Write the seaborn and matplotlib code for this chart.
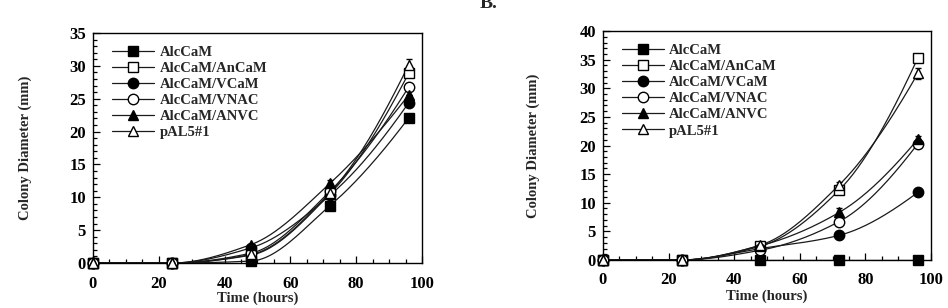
import numpy as np
import matplotlib
matplotlib.use("Agg")
import matplotlib.pyplot as plt
from matplotlib.lines import Line2D
from matplotlib.ticker import MultipleLocator
import seaborn as sns

# Data (colony diameter in mm)
hours = [0, 24, 48, 72, 96]
strains = ["AlcCaM", "AlcCaM/AnCaM", "AlcCaM/VCaM",
           "AlcCaM/VNAC", "AlcCaM/ANVC", "pAL5#1"]

# panel A
a_alccam = [0, 0, 0.3, 8.7, 22.1]
a_ancam = [0, 0, 1.2, 10.5, 28.9]
a_vcam = [0, 0, 2.3, 10.3, 24.4]
a_vnac = [0, 0, 1.5, 10.9, 26.8]
a_anvc = [0, 0, 2.8, 12.1, 25.6]
a_pal5 = [0, 0, 1.3, 10.7, 30.2]
a_err_anvc = [0, 0, 0, 0.6, 0]
a_err_pal5 = [0, 0, 0, 0, 0.8]

# panel B
b_alccam = [0, 0, 0, 0, 0]
b_ancam = [0, 0, 2.4, 12.2, 35.3]
b_vcam = [0, 0, 2.0, 4.3, 11.8]
b_vnac = [0, 0, 1.7, 6.7, 20.3]
b_anvc = [0, 0, 2.5, 8.3, 21.1]
b_pal5 = [0, 0, 2.6, 13.1, 32.6]
b_err_anvc = [0, 0, 0, 0.7, 0.5]
b_err_pal5 = [0, 0, 0, 0.6, 1.0]

MARKERS = {
    "AlcCaM": ("s", "black"),
    "AlcCaM/AnCaM": ("s", "white"),
    "AlcCaM/VCaM": ("o", "black"),
    "AlcCaM/VNAC": ("o", "white"),
    "AlcCaM/ANVC": ("^", "black"),
    "pAL5#1": ("^", "white"),
}


def smooth_curve(x, y, n=200):
    # monotone cubic (Fritsch-Carlson) through the measured points
    x = np.asarray(x, float)
    y = np.asarray(y, float)
    h = np.diff(x)
    delta = np.diff(y) / h
    d = np.zeros_like(y)
    for k in range(1, len(x) - 1):
        if delta[k - 1] * delta[k] > 0:
            w1 = 2 * h[k] + h[k - 1]
            w2 = h[k] + 2 * h[k - 1]
            d[k] = (w1 + w2) / (w1 / delta[k - 1] + w2 / delta[k])
    d[-1] = max(0.0, 1.5 * delta[-1] - 0.5 * delta[-2])
    xs = np.linspace(x[0], x[-1], n)
    idx = np.clip(np.searchsorted(x, xs) - 1, 0, len(x) - 2)
    t = (xs - x[idx]) / h[idx]
    h00 = 2 * t**3 - 3 * t**2 + 1
    h10 = t**3 - 2 * t**2 + t
    h01 = -2 * t**3 + 3 * t**2
    h11 = t**3 - t**2
    ys = (h00 * y[idx] + h10 * h[idx] * d[idx]
          + h01 * y[idx + 1] + h11 * h[idx] * d[idx + 1])
    return xs, ys


sns.set_style("ticks")
plt.rcParams["font.family"] = ["Liberation Serif", "DejaVu Serif"]
plt.rcParams["font.weight"] = "bold"
plt.rcParams["axes.labelweight"] = "bold"
plt.rcParams["font.size"] = 10.5

fig = plt.figure(figsize=(9.48, 3.08), dpi=100)
ax_a = fig.add_axes([0.0981, 0.146, 0.347, 0.747])
ax_b = fig.add_axes([0.636, 0.156, 0.346, 0.743])

panels = [
    (ax_a, [a_alccam, a_ancam, a_vcam, a_vnac, a_anvc, a_pal5],
     {"AlcCaM/ANVC": a_err_anvc, "pAL5#1": a_err_pal5}, 35, -0.122, -0.185),
    (ax_b, [b_alccam, b_ancam, b_vcam, b_vnac, b_anvc, b_pal5],
     {"AlcCaM/ANVC": b_err_anvc, "pAL5#1": b_err_pal5}, 40, -0.131, -0.192),
]

for ax, series, errs, ymax, xlab_y, ylab_x in panels:
    for name, vals in zip(strains, series):
        xs, ys = smooth_curve(hours, vals)
        sns.lineplot(x=xs, y=ys, ax=ax, color="#1a1a1a", lw=0.9,
                     estimator=None, sort=False)
    for name, vals in zip(strains, series):
        marker, face = MARKERS[name]
        yerr = errs.get(name, [0] * len(hours))
        ax.errorbar(hours, vals, yerr=yerr, fmt=marker, ms=7.5,
                    mfc=face, mec="black", mew=1.0, ecolor="black",
                    elinewidth=0.8, capsize=2.5, capthick=0.8,
                    clip_on=False, zorder=5)

    ax.set_xlim(0, 100)
    ax.set_ylim(0, ymax)
    ax.xaxis.set_major_locator(MultipleLocator(20))
    ax.xaxis.set_minor_locator(MultipleLocator(5))
    ax.yaxis.set_major_locator(MultipleLocator(5))
    ax.yaxis.set_minor_locator(MultipleLocator(1))
    ax.tick_params(which="both", direction="in", top=False, right=False,
                   colors="black", width=0.9, labelsize=12)
    ax.tick_params(which="major", length=5)
    ax.tick_params(which="minor", length=3)
    ax.tick_params(axis="x", pad=9)
    ax.tick_params(axis="y", pad=5)
    for sp in ax.spines.values():
        sp.set_visible(True)
        sp.set_color("black")
        sp.set_linewidth(1.0)

    ax.set_xlabel("Time (hours)")
    ax.set_ylabel("Colony Diameter (mm)")
    ax.xaxis.set_label_coords(0.5, xlab_y)
    ax.yaxis.set_label_coords(ylab_x, 0.5)

    handles = []
    for name in strains:
        marker, face = MARKERS[name]
        handles.append(Line2D([], [], color="#1a1a1a", lw=0.9, marker=marker,
                              ms=7.5, mfc=face, mec="black", mew=1.0))
    ax.legend(handles, strains, loc="upper left",
              bbox_to_anchor=(0.058, 0.945), frameon=False, borderpad=0,
              borderaxespad=0, handlelength=2.9, handletextpad=0.35,
              labelspacing=0.2, fontsize=10.5)

fig.text(0.515, 0.974, "B.", ha="center", va="baseline",
         fontsize=14, fontweight="bold")

fig.savefig("out.png", dpi=100)
